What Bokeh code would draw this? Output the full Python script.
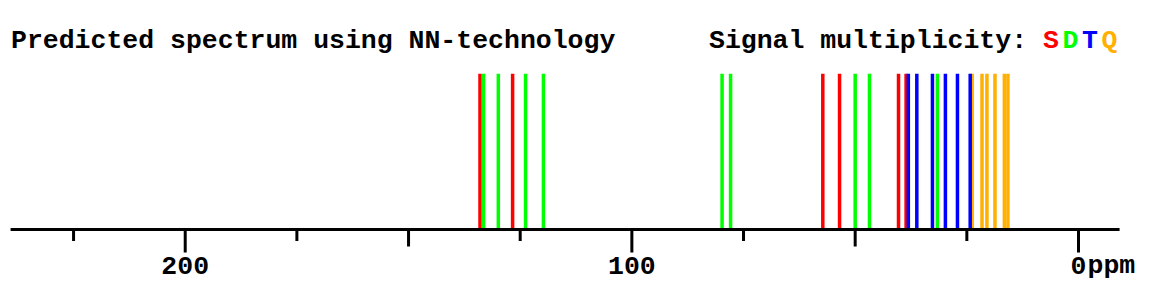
from bokeh.plotting import figure
from bokeh.models import Range1d, Label, ColumnDataSource
from bokeh.core.properties import value
from bokeh.embed import file_html
from bokeh.resources import INLINE
import math

# ---- data (chemical shifts in ppm) ----
singlet_ppm = [134.0, 126.7, 57.25, 53.5, 40.3, 38.6]
doublet_ppm = [133.2, 129.9, 123.8, 119.8, 79.8, 77.9, 50.0, 46.8, 31.6]
triplet_ppm = [38.1, 36.2, 32.7, 29.8, 27.1, 24.25]
quartet_ppm = [23.8, 21.6, 20.5, 18.7, 16.6, 15.8]

multiplicity_letters = ["S", "D", "T", "Q"]
multiplicity_colors = ["#FF0000", "#00FF00", "#0000FF", "#FFB000"]

major_ticks = [200, 100, 0]
major_labels = ["200", "100", "0"]
mid_ticks = [150, 50]
minor_ticks = [225, 175, 125, 75, 25]
axis_extent = [239.1, -9.2]

title_text = "Predicted spectrum using NN-technology"
legend_text = "Signal multiplicity: "
unit_text = "ppm"

# ---- figure ----
W, H = 1173, 290
FONT = "Liberation Mono"
FS = 26.5
ADV = 0.6 * FS
LETTER_STEP = 19.5
PX_PER_PPM = 4.4664
ZERO_PX = 1078.0

p = figure(width=W, height=H,
           x_range=Range1d(ZERO_PX / PX_PER_PPM, (ZERO_PX - W) / PX_PER_PPM),
           y_range=Range1d(-0.3918, 1.4708),
           output_backend="svg", toolbar_location=None,
           x_axis_type=None, y_axis_type=None,
           min_border_left=0, min_border_right=0,
           min_border_top=0, min_border_bottom=0)
p.outline_line_color = None
p.background_fill_color = "white"
p.border_fill_color = "white"
p.grid.visible = False

series = {"S": singlet_ppm, "D": doublet_ppm, "Q": quartet_ppm, "T": triplet_ppm}
color_of = dict(zip(multiplicity_letters, multiplicity_colors))
for key in ["S", "D", "Q", "T"]:
    xs = series[key]
    src = ColumnDataSource(dict(x0=xs, x1=xs, y0=[0] * len(xs), y1=[1] * len(xs)))
    p.segment(x0="x0", y0="y0", x1="x1", y1="y1", source=src,
              line_color=color_of[key], line_width=3.5)

# axis line
p.segment(x0=[axis_extent[0]], y0=[0], x1=[axis_extent[1]], y1=[0],
          line_color="black", line_width=3)

# ticks of three lengths
for ticks, length in [(major_ticks, 23), (mid_ticks, 17), (minor_ticks, 11.5)]:
    p.ray(x=ticks, y=[0] * len(ticks), length=length, length_units="screen",
          angle=-math.pi / 2, line_color="black", line_width=3)

# tick labels
p.text(x=major_ticks, y=[0] * len(major_ticks), text=major_labels,
       text_font=value(FONT), text_font_size=value(f"{FS}px"),
       text_font_style="bold", text_align="center", text_baseline="alphabetic",
       y_offset=36, text_color="black")

p.add_layout(Label(x=1087, y=H - 265, x_units="screen", y_units="screen",
                   text=unit_text, text_font=FONT, text_font_size=f"{FS}px",
                   text_font_style="bold", text_baseline="alphabetic",
                   text_color="black"))

# titles
TITLE_BASE = 40
p.add_layout(Label(x=10.5, y=H - TITLE_BASE, x_units="screen", y_units="screen",
                   text=title_text, text_font=FONT, text_font_size=f"{FS}px",
                   text_font_style="bold", text_baseline="alphabetic",
                   text_color="black"))
legend_x = 708.5
p.add_layout(Label(x=legend_x, y=H - TITLE_BASE, x_units="screen", y_units="screen",
                   text=legend_text, text_font=FONT, text_font_size=f"{FS}px",
                   text_font_style="bold", text_baseline="alphabetic",
                   text_color="black"))
letters_x = legend_x + len(legend_text) * ADV
for i, (letter, col) in enumerate(zip(multiplicity_letters, multiplicity_colors)):
    p.add_layout(Label(x=letters_x + i * LETTER_STEP, y=H - TITLE_BASE,
                       x_units="screen", y_units="screen",
                       text=letter, text_font=FONT, text_font_size=f"{FS}px",
                       text_font_style="bold", text_baseline="alphabetic",
                       text_color=col))

open("out.html", "w").write(file_html(p, INLINE))
